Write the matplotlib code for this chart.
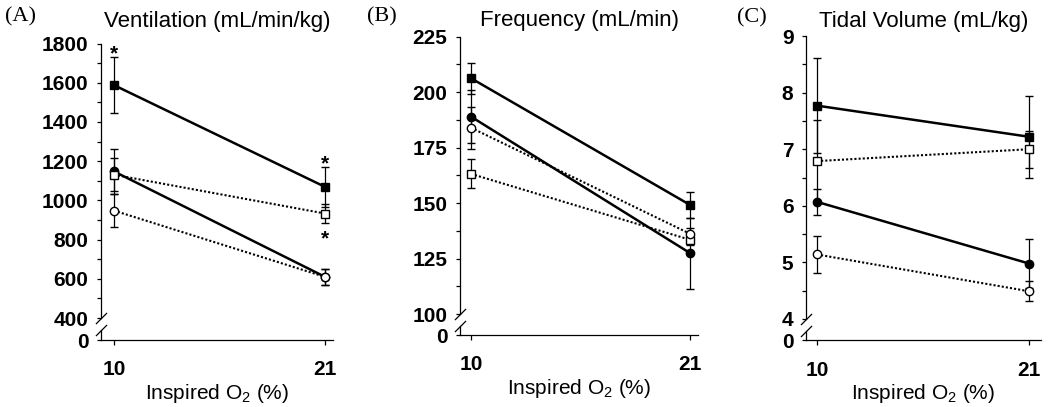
import numpy as np
import matplotlib.pyplot as plt
from matplotlib.ticker import FixedLocator

plt.rcParams['font.family'] = ['Liberation Sans', 'DejaVu Sans']
plt.rcParams['mathtext.fontset'] = 'custom'
plt.rcParams['mathtext.rm'] = 'Liberation Sans'

o2_levels = [10, 21]

# rows: filled square, filled circle, open square, open circle
vent_mean = [[1588, 1069], [1148, 610], [1131, 933], [948, 610]]
vent_err = [[143, 102], [114, 40], [85, 50], [85, 42]]
freq_mean = [[206.3, 149.2], [189, 127.5], [163.2, 133.5], [184, 136.2]]
freq_err = [[7, 6], [12, 16], [6.5, 2.5], [9.5, 2.5]]
tv_mean = [[7.77, 7.22], [6.07, 4.98], [6.79, 7.0], [5.14, 4.49]]
tv_err = [[0.84, 0.72], [0.23, 0.43], [0.72, 0.33], [0.32, 0.18]]

# significance marks: (series row, o2 index, above/below)
vent_stars = [(0, 0, 'above'), (0, 1, 'above'), (2, 1, 'below')]

styles = [
    dict(marker='s', mfc='k', ls='-', lw=1.8),
    dict(marker='o', mfc='k', ls='-', lw=1.8),
    dict(marker='s', mfc='w', ls=(0, (1, 1)), lw=1.5),
    dict(marker='o', mfc='w', ls=(0, (1, 1)), lw=1.5),
]


def draw_panel(ax, means, errs, title, title_pad, lo, top, step, zero_pos,
               xlim, fmt, stars=()):
    for m, e, st in zip(means, errs, styles):
        ax.errorbar(o2_levels, m, yerr=e, color='k', marker=st['marker'],
                    mfc=st['mfc'], mec='k', mew=1.0, ms=6,
                    ls=st['ls'], lw=st['lw'], elinewidth=0.9,
                    capsize=3.2, capthick=0.9)

    for row, i, where in stars:
        if where == 'above':
            y = means[row][i] + errs[row][i]
            off = -2
        else:
            y = means[row][i] - errs[row][i]
            off = -15
        ax.annotate('*', xy=(o2_levels[i], y), xytext=(0, off),
                    textcoords='offset points', ha='center', va='baseline',
                    fontsize=15, fontweight='bold')

    ax.set_xlim(*xlim)
    ax.set_ylim(zero_pos, top)

    majors = list(np.arange(lo, top + step / 2, step))
    ax.set_yticks([zero_pos] + majors)
    ax.set_yticklabels(['0'] + [fmt.format(v) for v in majors])
    ax.yaxis.set_minor_locator(FixedLocator(
        np.arange(lo + step / 2, top, step)))
    ax.set_xticks(o2_levels)
    ax.set_xticklabels([str(v) for v in o2_levels])

    for lab in ax.get_xticklabels() + ax.get_yticklabels():
        lab.set_fontweight('bold')
    ax.tick_params(axis='y', which='both', direction='out', length=3,
                   width=0.9, labelsize=15, pad=6)
    ax.tick_params(axis='x', direction='out', length=3.5, width=0.9,
                   labelsize=15, pad=11)

    for side in ('top', 'right', 'left'):
        ax.spines[side].set_visible(False)
    ax.spines['bottom'].set_linewidth(0.9)

    # broken y axis
    tr = ax.get_yaxis_transform()
    mid = zero_pos + 0.45 * (lo - zero_pos)
    ax.plot([0, 0], [lo, top], transform=tr, color='k', lw=0.9,
            clip_on=False)
    ax.plot([0, 0], [zero_pos, mid], transform=tr, color='k', lw=0.9,
            clip_on=False)
    ax.plot([0, 0], [lo, mid], transform=tr, marker=[(-1, -1), (1, 1)],
            ms=8, ls='none', mec='k', mew=0.9, clip_on=False)

    ax.set_title(title, fontsize=16, pad=title_pad)
    ax.set_xlabel(r'Inspired O$_{\mathrm{2}}$ (%)', fontsize=15, labelpad=2)


fig = plt.figure(figsize=(10.5, 4.07), dpi=100)
ax_a = fig.add_axes([0.0962, 0.1646, 0.2210, 0.7285])
ax_b = fig.add_axes([0.4381, 0.1769, 0.2267, 0.7329])
ax_c = fig.add_axes([0.7676, 0.1634, 0.2238, 0.7481])

draw_panel(ax_a, vent_mean, vent_err, 'Ventilation (mL/min/kg)', 12,
           400, 1800, 200, 288, (9.33, 21.42), '{:.0f}', vent_stars)
draw_panel(ax_b, freq_mean, freq_err, 'Frequency (mL/min)', 7.5,
           100, 225, 25, 90.6, (9.45, 21.40), '{:.0f}')
draw_panel(ax_c, tv_mean, tv_err, 'Tidal Volume (mL/kg)', 6.5,
           4, 9, 1, 3.62, (9.43, 21.62), '{:.0f}')

for label, x, y in [('(A)', 0.005, 0.948), ('(B)', 0.350, 0.947),
                    ('(C)', 0.702, 0.944)]:
    fig.text(x, y, label, family=['Liberation Serif', 'DejaVu Serif'],
             fontsize=16, va='baseline')

fig.savefig('out.png', dpi=100)
